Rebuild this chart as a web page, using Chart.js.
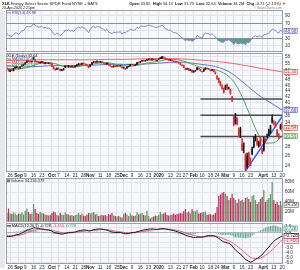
<!DOCTYPE html>
<html>
<head>
<meta charset="utf-8">
<script src="https://cdn.jsdelivr.net/npm/chart.js@4.4.1/dist/chart.umd.min.js"></script>
<style>
html,body{margin:0;padding:0;background:#fff;}
body{width:300px;height:270px;position:relative;overflow:hidden;}
canvas{position:absolute;left:0;}
#band{position:absolute;left:0;top:10px;width:5px;height:258px;background:#e7e8ec;}
</style>
</head>
<body>
<div id="band"></div>
<canvas id="cRsi" width="300" height="53" style="top:0"></canvas>
<canvas id="cPrice" width="300" height="126" style="top:52px"></canvas>
<canvas id="cVol" width="300" height="45" style="top:178px"></canvas>
<canvas id="cMacd" width="300" height="48" style="top:222px"></canvas>
<script>
const FONT = "'Liberation Sans', Arial, Helvetica, sans-serif";

// ---------- categories (trading days) ----------
const monthDays = [
  ['2019-08', [22,23,26,27,28,29,30]],
  ['2019-09', [3,4,5,6,9,10,11,12,13,16,17,18,19,20,23,24,25,26,27,30]],
  ['2019-10', [1,2,3,4,7,8,9,10,11,14,15,16,17,18,21,22,23,24,25,28,29,30,31]],
  ['2019-11', [1,4,5,6,7,8,11,12,13,14,15,18,19,20,21,22,25,26,27,29]],
  ['2019-12', [2,3,4,5,6,9,10,11,12,13,16,17,18,19,20,23,24,26,27,30,31]],
  ['2020-01', [2,3,6,7,8,9,10,13,14,15,16,17,21,22,23,24,27,28,29,30,31]],
  ['2020-02', [3,4,5,6,7,10,11,12,13,14,18,19,20,21,24,25,26,27,28]],
  ['2020-03', [2,3,4,5,6,9,10,11,12,13,16,17,18,19,20,23,24,25,26,27,30,31]],
  ['2020-04', [1,2,3,6,7,8,9,13,14,15,16,17,20]]
];
const dates = monthDays.flatMap(([m, ds]) => ds.map(d => m + '-' + String(d).padStart(2, '0')));

// ---------- x tick labels ----------
const tickDates = ['2019-08-26','2019-09-03','2019-09-09','2019-09-16','2019-09-23','2019-10-01','2019-10-07','2019-10-14','2019-10-21','2019-10-28','2019-11-01','2019-11-11','2019-11-18','2019-11-25','2019-12-02','2019-12-09','2019-12-16','2019-12-23','2020-01-02','2020-01-13','2020-01-21','2020-01-27','2020-02-03','2020-02-10','2020-02-18','2020-02-24','2020-03-02','2020-03-09','2020-03-16','2020-03-23','2020-04-01','2020-04-06','2020-04-13','2020-04-20'];
const tickTexts = ['26','Sep','9','16','23','Oct','7','14','21','28','Nov','11','18','25','Dec','9','16','23','2020','13','21','27','Feb','10','18','24','Mar','9','16','23','Apr','6','13','20'];
const boldTickTexts = ['Sep','Oct','Nov','Dec','2020','Feb','Mar','Apr'];

// ---------- price (daily candles) ----------
const opens = [
  52.9,52.5,51.5,52.3,51.8,52.9,53.5,
  53.0,52.9,53.9,54.4,54.6,55.4,56.1,56.0,55.6,57.6,56.6,55.7,55.8,55.6,55.4,55.6,54.8,55.2,54.9,55.0,
  54.9,53.5,52.5,52.4,52.8,52.4,51.9,52.2,53.2,53.7,53.4,53.8,53.5,53.6,53.4,53.9,54.3,54.8,54.5,55.1,54.6,54.4,53.7,
  53.6,54.6,55.4,55.8,55.5,55.8,55.5,55.8,55.2,55.0,54.7,54.9,54.2,53.7,53.4,53.9,53.7,53.9,53.8,53.6,
  53.3,52.4,52.9,53.5,53.9,54.5,54.3,54.1,54.5,55.5,55.4,55.9,56.3,56.0,56.4,56.6,56.9,56.7,56.9,56.6,56.3,
  56.7,57.3,57.2,57.9,57.4,56.9,56.8,56.3,56.5,56.0,55.9,55.8,55.4,55.1,54.3,54.1,52.8,52.4,52.7,51.9,52.1,
  51.4,51.7,52.2,52.9,52.3,51.5,51.6,52.4,52.8,52.6,52.0,51.9,52.1,51.3,49.6,48.6,47.3,45.6,43.6,
  44.8,46.2,44.9,44.6,41.9,34.6,34.2,35.0,31.6,32.2,28.6,28.0,26.0,23.7,26.5,24.5,26.4,27.9,29.6,29.4,28.1,29.9,
  27.2,27.2,29.3,30.3,32.0,31.4,35.4,33.9,33.8,32.0,30.6,32.3,33.85
];
const highs = [
  53.1,52.6,52.3,52.5,52.8,53.5,53.7,
  53.1,53.5,54.3,54.6,55.4,56.2,56.3,56.1,56.1,57.8,56.7,56.0,55.9,55.7,55.9,55.7,55.4,55.4,55.2,55.2,
  55.0,53.6,52.7,53.0,53.0,52.5,52.4,52.8,54.0,53.9,54.1,53.9,53.9,53.8,54.0,54.5,54.9,54.9,55.1,55.2,54.8,54.5,53.8,
  54.4,55.4,55.9,55.9,56.1,55.9,55.9,55.9,55.3,55.0,55.2,55.0,54.3,53.8,54.0,54.0,54.0,54.0,54.1,53.6,
  53.4,52.9,53.6,53.8,54.6,54.7,54.4,54.4,55.5,55.6,55.9,56.3,56.4,56.4,56.7,57.0,57.0,57.0,57.0,56.7,56.6,
  57.1,57.7,58.2,58.0,57.5,57.0,56.9,56.7,56.6,56.1,56.0,55.9,55.5,55.2,54.4,54.2,52.9,52.9,52.8,52.4,52.2,
  51.8,52.0,53.2,53.0,52.4,51.7,52.5,53.1,53.0,52.7,52.1,52.4,52.2,51.4,49.8,48.8,47.5,46.2,45.0,
  46.1,46.6,45.4,44.7,42.1,36.0,36.7,35.4,32.6,32.8,29.9,28.9,26.4,26.6,26.8,25.6,27.9,30.4,30.9,30.0,29.3,30.3,
  27.6,30.2,30.0,31.0,32.3,33.3,36.2,34.6,34.3,32.2,31.1,33.6,34.13
];
const lows = [
  52.4,51.6,51.4,51.8,51.7,52.8,53.0,
  52.4,52.8,53.8,54.0,54.5,55.3,55.7,55.5,55.5,56.8,55.7,55.4,55.1,55.1,55.3,54.8,54.7,54.8,54.8,54.6,
  53.5,52.5,52.0,52.2,52.4,51.7,51.8,52.1,53.1,53.4,53.3,53.3,53.4,53.1,53.3,53.8,54.2,54.3,54.4,54.6,54.4,53.8,53.0,
  53.5,54.5,55.3,55.3,55.4,55.5,55.4,55.3,55.0,54.5,54.6,54.1,53.7,53.2,53.3,53.5,53.6,53.6,53.7,52.9,
  52.8,52.3,52.8,53.4,53.8,54.2,54.0,54.0,54.4,55.1,55.3,55.8,56.0,55.9,56.2,56.5,56.4,56.3,56.5,56.3,56.2,
  56.6,57.1,57.1,57.4,56.7,56.5,56.2,56.2,56.0,55.7,55.5,55.4,55.0,54.3,53.9,53.1,52.2,52.3,51.9,51.8,51.1,
  51.1,51.5,52.1,52.3,51.6,51.2,51.5,52.3,52.6,52.3,51.7,51.8,51.3,50.4,48.3,46.9,45.8,44.6,43.2,
  44.4,44.5,44.6,42.8,40.3,33.2,33.6,33.4,30.3,30.1,27.1,26.6,22.9,23.5,24.2,24.0,26.2,27.7,29.3,28.3,27.9,28.2,
  26.4,27.0,29.0,30.1,30.6,31.2,33.9,33.3,32.8,30.5,29.9,32.2,31.73
];
const closes = [
  52.6,51.8,52.1,51.9,52.7,53.3,53.3,
  52.6,53.4,54.2,54.2,55.2,56.0,55.9,55.7,56.0,57.0,55.8,55.6,55.3,55.3,55.7,54.9,55.3,54.9,55.0,54.7,
  53.6,52.6,52.3,52.9,52.6,51.8,52.2,52.7,53.8,53.5,53.9,53.4,53.7,53.2,53.9,54.3,54.8,54.4,55.0,54.7,54.5,53.9,53.1,
  54.2,55.3,55.8,55.4,55.9,55.7,55.8,55.4,55.1,54.6,55.1,54.2,53.8,53.3,53.9,53.6,53.9,53.7,54.0,53.0,
  53.0,52.7,53.5,53.6,54.5,54.3,54.1,54.3,55.4,55.2,55.8,56.2,56.1,56.3,56.6,56.9,56.8,56.9,56.6,56.4,56.5,
  57.0,57.5,58.0,57.6,56.8,56.7,56.3,56.5,56.1,55.8,55.7,55.5,55.1,54.4,54.0,53.2,52.3,52.6,52.0,52.2,51.2,
  51.5,51.8,53.0,52.4,51.7,51.3,52.3,52.9,52.7,52.4,51.8,52.2,51.4,50.6,48.4,47.0,46.0,44.8,44.3,
  45.9,44.6,45.2,43.0,40.8,33.6,35.6,33.7,30.5,31.4,27.3,27.9,23.3,25.9,24.4,24.3,27.5,29.5,30.5,28.5,29.0,28.4,
  26.7,29.8,29.7,30.6,30.8,33.0,34.2,33.7,33.0,30.6,30.1,33.35,32.64
];

// moving averages, one reading every 5th trading day
const ma20 = [52.8,52.5,52.8,53.8,55.0,55.4,54.6,53.5,53.3,53.9, 54.4,55.1,55.3,54.6,54.0,53.8,54.4,55.3,55.8,56.6, 56.8,56.2,54.9,53.5,52.6,52.2,50.8,48.2,43.2,37.0, 31.5,28.8,28.9,30.53];
const ma50 = [54.0,53.6,53.4,53.5,53.7,53.9,54.0,54.0,54.0,54.0, 54.1,54.3,54.5,54.6,54.5,54.5,54.6,54.8,55.0,55.3, 55.5,55.5,55.2,54.7,54.2,53.6,52.4,50.6,48.0,45.4, 42.9,41.0,39.3,37.66];
const ma200 = [56.2,56.3,56.4,56.5,56.6,56.6,56.6,56.6,56.6,56.6, 56.6,56.7,56.8,56.8,56.8,56.9,57.0,57.1,57.2,57.2, 57.1,57.0,56.8,56.5,56.2,55.9,55.5,55.0,54.4,53.8, 53.1,52.5,51.9,51.30];

// drawn support / resistance levels and trend line
const levelLines = [41.2, 36.1, 30.4];
const levelStart = '2020-02-07';
const trendStart = ['2020-03-18', 22.95];
const trendEnd = ['2020-04-20', 35.8];

// ---------- volume (millions) ----------
const volumesM = [
  18,27,17,16,19,17,14,
  17,16,19,15,22,27,20,16,17,36,26,18,16,20,18,17,15,14,13,14,
  18,21,19,14,13,18,15,14,19,16,15,13,14,12,14,15,18,14,17,13,12,15,18,
  17,18,20,15,16,12,13,14,13,14,12,16,15,18,13,12,11,12,10,9,
  16,18,15,12,17,13,12,13,19,15,17,18,14,13,22,12,7,10,11,13,12,
  14,20,16,17,19,14,13,14,15,17,14,16,17,18,17,22,26,19,21,17,26,
  22,21,24,17,18,19,20,21,14,15,16,14,15,18,30,52,55,58,60,
  56,52,44,48,56,48,44,38,46,42,44,40,48,50,46,40,52,54,44,36,40,46,
  50,64,40,44,48,56,80,44,36,40,34,42,34.234379
];

// ---------- RSI(14) ----------
const rsi = [
  44,38,36,35,40,44,44,
  40,45,50,50,56,62,61,60,63,70,64,62,60,60,62,57,59,57,57,55,
  49,42,40,44,42,37,41,45,52,50,53,49,51,48,53,56,60,57,61,58,56,50,45,
  54,60,62,58,61,60,60,56,54,50,54,47,45,42,47,45,47,46,48,41,
  46,44,49,50,54,53,51,53,59,57,61,63,62,62,63,65,64,63,61,59,59,
  61,63,65,61,55,54,51,52,48,45,45,43,40,35,32,28,24,27,24,26,22,
  25,28,38,35,32,31,40,44,43,42,39,42,38,34,27,24,22,20,20,
  26,24,27,23,20,14,19,17,15,18,15,17,13,20,18,24,31,35,37,34,36,36,
  33,40,40,42,43,50,54,53,51,45,44,51,48.98
];

// ---------- MACD(12,26,9) ----------
const macd = [
  -0.80,-0.85,-0.82,-0.78,-0.68,-0.55,-0.45,
  -0.45,-0.32,-0.15,0.00,0.18,0.38,0.50,0.60,0.70,0.85,0.84,0.80,0.74,0.66,0.62,0.55,0.50,0.44,0.40,0.34,
  0.20,0.02,-0.12,-0.18,-0.24,-0.34,-0.36,-0.34,-0.22,-0.16,-0.08,-0.06,-0.02,-0.02,0.06,0.16,0.28,0.32,0.40,0.44,0.44,0.38,0.26,
  0.28,0.38,0.50,0.54,0.60,0.62,0.64,0.60,0.55,0.46,0.42,0.30,0.18,0.04,0.00,-0.05,-0.06,-0.08,-0.06,-0.14,
  -0.22,-0.30,-0.28,-0.24,-0.14,-0.08,-0.05,-0.02,0.10,0.18,0.28,0.38,0.44,0.50,0.55,0.60,0.62,0.64,0.62,0.58,0.55,
  0.62,0.66,0.70,0.70,0.64,0.58,0.50,0.44,0.38,0.30,0.22,0.12,0.00,-0.14,-0.28,-0.42,-0.58,-0.68,-0.78,-0.86,-0.96,
  -1.02,-1.04,-0.98,-0.96,-0.96,-0.98,-0.90,-0.78,-0.70,-0.66,-0.68,-0.66,-0.70,-0.80,-1.00,-1.22,-1.45,-1.68,-1.88,
  -1.96,-2.08,-2.15,-2.35,-2.62,-3.15,-3.45,-3.70,-4.05,-4.25,-4.65,-4.90,-5.35,-5.50,-5.70,-5.85,-5.75,-5.55,-5.30,-5.10,-4.88,-4.65,
  -4.40,-4.00,-3.62,-3.25,-2.90,-2.50,-2.10,-1.78,-1.50,-1.30,-1.10,-0.88,-0.728
];
const macdSignal = [
  -0.60,-0.65,-0.68,-0.70,-0.70,-0.67,-0.63,
  -0.60,-0.54,-0.46,-0.37,-0.26,-0.13,-0.01,0.11,0.23,0.35,0.45,0.52,0.57,0.59,0.60,0.59,0.57,0.54,0.51,0.48,
  0.42,0.34,0.25,0.16,0.08,0.00,-0.07,-0.12,-0.14,-0.14,-0.13,-0.12,-0.10,-0.08,-0.05,0.00,0.06,0.11,0.17,0.22,0.26,0.29,0.29,
  0.29,0.31,0.35,0.39,0.43,0.47,0.50,0.52,0.53,0.52,0.50,0.46,0.41,0.34,0.27,0.21,0.16,0.11,0.08,0.03,
  -0.02,-0.08,-0.12,-0.14,-0.14,-0.13,-0.11,-0.09,-0.05,0.00,0.06,0.12,0.19,0.25,0.31,0.37,0.42,0.46,0.49,0.51,0.52,
  0.54,0.56,0.59,0.61,0.62,0.61,0.59,0.56,0.53,0.48,0.43,0.37,0.29,0.21,0.11,0.00,-0.12,-0.23,-0.34,-0.44,-0.55,
  -0.64,-0.72,-0.77,-0.81,-0.84,-0.87,-0.88,-0.86,-0.83,-0.80,-0.77,-0.75,-0.74,-0.75,-0.80,-0.88,-1.00,-1.14,-1.29,
  -1.42,-1.55,-1.67,-1.80,-1.97,-2.21,-2.46,-2.71,-2.98,-3.24,-3.52,-3.80,-4.11,-4.39,-4.65,-4.89,-5.06,-5.16,-5.19,-5.17,-5.11,-5.02,
  -4.90,-4.72,-4.50,-4.26,-4.00,-3.72,-3.42,-3.10,-2.78,-2.46,-2.14,-1.80,-1.456
];
const macdHist = [
  -0.20,-0.20,-0.14,-0.08,0.02,0.12,0.18,
  0.15,0.22,0.31,0.37,0.44,0.51,0.51,0.49,0.47,0.50,0.39,0.28,0.17,0.07,0.02,-0.04,-0.07,-0.10,-0.11,-0.14,
  -0.22,-0.32,-0.37,-0.34,-0.32,-0.34,-0.29,-0.22,-0.08,-0.02,0.05,0.06,0.08,0.06,0.11,0.16,0.22,0.21,0.23,0.22,0.18,0.09,-0.03,
  -0.01,0.07,0.15,0.15,0.17,0.15,0.14,0.08,0.02,-0.06,-0.08,-0.16,-0.23,-0.30,-0.27,-0.26,-0.22,-0.19,-0.14,-0.17,
  -0.20,-0.22,-0.16,-0.10,0.00,0.05,0.06,0.07,0.15,0.18,0.22,0.26,0.25,0.25,0.24,0.23,0.20,0.18,0.13,0.07,0.03,
  0.08,0.10,0.11,0.09,0.02,-0.03,-0.09,-0.12,-0.15,-0.18,-0.21,-0.25,-0.29,-0.35,-0.39,-0.42,-0.46,-0.45,-0.44,-0.42,-0.41,
  -0.38,-0.32,-0.21,-0.15,-0.12,-0.11,-0.02,0.08,0.13,0.14,0.09,0.09,0.04,-0.05,-0.20,-0.34,-0.45,-0.54,-0.59,
  -0.54,-0.53,-0.48,-0.55,-0.65,-0.94,-0.99,-0.99,-1.07,-1.01,-1.13,-1.10,-1.24,-1.11,-1.05,-0.96,-0.69,-0.39,-0.11,0.07,0.23,0.37,
  0.50,0.72,0.88,1.01,1.10,1.22,1.32,1.32,1.28,1.16,1.04,0.92,0.728
];

// ---------- axis tick values ----------
const priceTicks = [58,55,52,50,48,46,44,42,40,38,36,34,32,30,28,26,24];
const rsiTicks = [10,30,50,70,90];
const rsiBands = [70,30];
const volTicks = [20,40,60,80];
const macdTicks = [1,0,-1,-2,-3,-4,-5,-6];

[opens,highs,lows,closes,volumesM,rsi,macd,macdSignal,macdHist].forEach((a,k) => {
  if (a.length !== dates.length) throw new Error('length mismatch ' + k + ': ' + a.length + ' vs ' + dates.length);
});
[ma20,ma50,ma200].forEach((a,k) => { if (a.length !== 34) throw new Error('ma length ' + k + ': ' + a.length); });

// ---------- helpers ----------
const N = dates.length, L = N - 1;
const tickAt = {};
tickDates.forEach((d, k) => { tickAt[dates.indexOf(d)] = tickTexts[k]; });
const maDates = dates.filter((d, i) => i % 5 === 0);
const maSeries = arr => arr.map((v, k) => ({ x: maDates[k], y: v }));
const isDown = i => (i > 0 ? closes[i] < closes[i - 1] : closes[i] < opens[i]);
const candleColor = i => isDown(i) ? '#e2262b' : '#141414';
const volColor = i => isDown(i) ? '#b8325f' : '#5c975c';

Chart.defaults.font.family = FONT;

function xAxis(show) {
  return {
    type: 'category', offset: true,
    grid: { offset: false, drawTicks: false, lineWidth: 1,
      color: c => (c.index in tickAt) ? '#dde0e7' : 'rgba(0,0,0,0)' },
    border: { display: false },
    ticks: { display: show, autoSkip: false, maxRotation: 0, minRotation: 0, padding: 0.5, color: '#1c1c1c',
      font: c => ({ family: FONT, size: 4.6, weight: boldTickTexts.includes(tickAt[c.index]) ? 'bold' : 'normal' }),
      callback: (v, i) => (i in tickAt) ? tickAt[i] : '' },
    afterFit: s => { s.height = show ? 6 : 0; s.paddingLeft = 0; s.paddingRight = 0; }
  };
}
function yAxis(extra, tickVals, fmt) {
  return Object.assign({
    position: 'right',
    grid: { color: '#e2e5eb', drawTicks: false, lineWidth: 1 },
    border: { display: false },
    ticks: { padding: 2, autoSkip: false, color: '#2a2a2a', font: { family: FONT, size: 4.6 }, callback: v => fmt(v) },
    afterBuildTicks: s => { s.ticks = tickVals.map(v => ({ value: v })); },
    afterFit: s => { s.width = 17; s.paddingTop = 0; s.paddingBottom = 0; }
  }, extra);
}
const common = { responsive: false, animation: false, devicePixelRatio: 1, events: [],
  plugins: { legend: { display: false }, tooltip: { enabled: false } } };

const panelPlugin = {
  id: 'panel',
  beforeDraw(chart) {
    const { ctx, chartArea: a } = chart;
    ctx.save(); ctx.fillStyle = '#f7f8fb';
    ctx.fillRect(a.left, a.top, a.right - a.left, a.bottom - a.top); ctx.restore();
  },
  afterDraw(chart) {
    const { ctx, chartArea: a } = chart;
    ctx.save(); ctx.strokeStyle = '#9b9ea6'; ctx.lineWidth = 1;
    ctx.strokeRect(Math.round(a.left) + 0.5, Math.round(a.top) + 0.5, Math.round(a.right - a.left) - 1, Math.round(a.bottom - a.top) - 1);
    ctx.restore();
  }
};
function hLinesPlugin(id, vals, color) {
  return { id, beforeDatasetsDraw(chart) {
    const y = chart.scales.y, a = chart.chartArea, ctx = chart.ctx;
    ctx.save(); ctx.strokeStyle = color; ctx.lineWidth = 1;
    vals.forEach(v => { const py = Math.round(y.getPixelForValue(v)) + 0.5;
      ctx.beginPath(); ctx.moveTo(a.left, py); ctx.lineTo(a.right, py); ctx.stroke(); });
    ctx.restore();
  } };
}
function drawLegend(ctx, x, y, items) {
  ctx.save(); ctx.font = `3.9px ${FONT}`; ctx.textBaseline = 'alphabetic'; ctx.textAlign = 'left';
  let cx = x;
  items.forEach(it => {
    if (it.line) { ctx.strokeStyle = it.line; ctx.lineWidth = 1; ctx.beginPath();
      ctx.moveTo(cx, y - 1.3); ctx.lineTo(cx + 4, y - 1.3); ctx.stroke(); cx += 4.8; }
    if (it.box) { ctx.fillStyle = it.box; ctx.fillRect(cx, y - 3, 3, 3); cx += 3.8; }
    ctx.font = `${it.bold ? 'bold ' : ''}3.9px ${FONT}`;
    ctx.fillStyle = it.color; ctx.fillText(it.text, cx, y); cx += ctx.measureText(it.text).width + 1;
  });
  ctx.restore();
}
function drawTags(chart, tags) {
  const ctx = chart.ctx, ys = chart.scales.y, a = chart.chartArea;
  const items = tags.map(t => Object.assign({}, t, { py: ys.getPixelForValue(t.value) })).sort((p, q) => p.py - q.py);
  for (let k = 1; k < items.length; k++) if (items[k].py - items[k - 1].py < 5) items[k].py = items[k - 1].py + 5;
  ctx.save(); ctx.font = `4.5px ${FONT}`; ctx.textBaseline = 'middle'; ctx.textAlign = 'left';
  items.forEach(t => {
    const w = ctx.measureText(t.text).width + 2, x = a.right + 1;
    ctx.fillStyle = t.fill; ctx.fillRect(x, t.py - 2.5, w, 5);
    ctx.strokeStyle = t.color; ctx.lineWidth = 0.6; ctx.strokeRect(x, t.py - 2.5, w, 5);
    ctx.fillStyle = t.color; ctx.fillText(t.text, x + 1, t.py + 0.3);
  });
  ctx.restore();
}
function drawHeader(ctx) {
  ctx.save(); ctx.textBaseline = 'alphabetic'; ctx.textAlign = 'left'; ctx.fillStyle = '#111';
  ctx.font = `bold 4px ${FONT}`; ctx.fillText('XLE', 2, 4.6);
  const w = ctx.measureText('XLE ').width;
  ctx.font = `4px ${FONT}`; ctx.fillText('Energy Select Sector SPDR Fund NYSE + BATS', 2 + w, 4.6);
  ctx.font = `3.6px ${FONT}`; ctx.fillText('20-Apr-2020 2:21pm', 2, 8.8);
  const chg = closes[L] - closes[L - 1];
  const parts = [
    ['Open ', true], [opens[L].toFixed(2) + '  ', false], ['High ', true], [highs[L].toFixed(2) + '  ', false],
    ['Low ', true], [lows[L].toFixed(2) + '  ', false], ['Last ', true], [closes[L].toFixed(2) + '  ', false],
    ['Volume ', true], [volumesM[L].toFixed(1) + 'M  ', false], ['Chg ', true],
    [chg.toFixed(2) + ' (' + (chg / closes[L - 1] * 100).toFixed(2) + '%) ', false], ['\u25BC', false, '#d8262b']
  ];
  let total = 0;
  parts.forEach(p => { ctx.font = `${p[1] ? 'bold ' : ''}4px ${FONT}`; total += ctx.measureText(p[0]).width; });
  let x = 286 - total;
  parts.forEach(p => { ctx.font = `${p[1] ? 'bold ' : ''}4px ${FONT}`; ctx.fillStyle = p[2] || '#111';
    ctx.fillText(p[0], x, 4.6); x += ctx.measureText(p[0]).width; });
  ctx.font = `3.3px ${FONT}`; ctx.fillStyle = '#8a8a8a'; ctx.textAlign = 'right';
  ctx.fillText('\u00A9 StockCharts.com', 282, 9.4);
  ctx.restore();
}

// ---------- RSI panel ----------
new Chart(document.getElementById('cRsi'), {
  type: 'line',
  data: { labels: dates, datasets: [{
    data: rsi, borderColor: '#8585cf', borderWidth: 1, pointRadius: 0, tension: 0,
    fill: { target: { value: 30 }, above: 'rgba(0,0,0,0)', below: '#5f9c8c' } }] },
  options: Object.assign({}, common, {
    layout: { padding: { left: 6, right: 0, top: 10, bottom: 1 } },
    scales: { x: xAxis(false), y: yAxis({ min: -6, max: 105 }, rsiTicks, v => String(v)) } }),
  plugins: [panelPlugin, hLinesPlugin('rsiBands', rsiBands, '#8d9097'), {
    id: 'rsiText', afterDraw(chart) {
      drawHeader(chart.ctx);
      drawLegend(chart.ctx, 7, 14.2, [{ line: '#8585cf', text: 'RSI(14) ' + rsi[L].toFixed(2), color: '#4a4a9a' }]);
      drawTags(chart, [{ value: rsi[L], text: rsi[L].toFixed(2), color: '#5a5ab0', fill: '#eef0fb' }]);
    } }]
});

// ---------- price panel ----------
const lineDs = (data, color, order, width) => ({ type: 'line', data, borderColor: color, borderWidth: width || 1,
  pointRadius: 0, cubicInterpolationMode: 'monotone', order });
new Chart(document.getElementById('cPrice'), {
  type: 'bar',
  data: { labels: dates, datasets: [
    lineDs(maSeries(ma200), '#e46a6a', 8),
    lineDs(maSeries(ma50), '#6d6dd8', 7),
    lineDs(maSeries(ma20), '#4fa64f', 6),
    ...levelLines.map(v => lineDs([{ x: levelStart, y: v }, { x: dates[L], y: v }], '#4a4a4a', 5, 1.5)),
    lineDs([{ x: trendStart[0], y: trendStart[1] }, { x: trendEnd[0], y: trendEnd[1] }], '#2d5bff', 2, 1.5),
    { type: 'bar', data: lows.map((l, i) => [l, highs[i]]), backgroundColor: c => candleColor(c.dataIndex),
      barThickness: 0.8, grouped: false, order: 1 },
    { type: 'bar', data: opens.map((o, i) => [o, closes[i]]), backgroundColor: c => candleColor(c.dataIndex),
      barPercentage: 0.85, categoryPercentage: 1, minBarLength: 0.7, grouped: false, order: 0 }
  ] },
  options: Object.assign({}, common, {
    layout: { padding: { left: 6, right: 0, top: 1, bottom: 0 } },
    scales: { x: xAxis(true), y: yAxis({ type: 'logarithmic', min: 22.8, max: 59.8 }, priceTicks, v => String(v)) } }),
  plugins: [panelPlugin, {
    id: 'priceText', afterDraw(chart) {
      const ctx = chart.ctx;
      drawLegend(ctx, 7, 4.9, [{ text: 'XLE (Daily) ' + closes[L].toFixed(2), color: '#111' }]);
      drawLegend(ctx, 7, 8.4, [{ line: '#6d6dd8', text: 'MA(50) ' + ma50[ma50.length - 1].toFixed(2), color: '#4848b8' }]);
      drawLegend(ctx, 7, 11.9, [{ line: '#e46a6a', text: 'MA(200) ' + ma200[ma200.length - 1].toFixed(2), color: '#c83c3c' }]);
      drawLegend(ctx, 7, 15.4, [{ line: '#4fa64f', text: 'MA(20) ' + ma20[ma20.length - 1].toFixed(2), color: '#3a8a3a' }]);
      drawTags(chart, [
        { value: ma200[ma200.length - 1], text: ma200[ma200.length - 1].toFixed(2), color: '#d23c3c', fill: '#fbe9e9' },
        { value: ma50[ma50.length - 1], text: ma50[ma50.length - 1].toFixed(2), color: '#4646c0', fill: '#ecedfb' },
        { value: closes[L], text: closes[L].toFixed(2), color: '#c8262b', fill: '#fff4d6' },
        { value: ma20[ma20.length - 1], text: ma20[ma20.length - 1].toFixed(2), color: '#3a8a3a', fill: '#e9f6e9' }
      ]);
    } }]
});

// ---------- volume panel ----------
new Chart(document.getElementById('cVol'), {
  type: 'bar',
  data: { labels: dates, datasets: [{ data: volumesM, backgroundColor: c => volColor(c.dataIndex),
    barPercentage: 0.75, categoryPercentage: 1 }] },
  options: Object.assign({}, common, {
    layout: { padding: { left: 6, right: 0, top: 0, bottom: 1 } },
    scales: { x: xAxis(false), y: yAxis({ min: 0, max: 88 }, volTicks, v => v + 'M') } }),
  plugins: [panelPlugin, {
    id: 'volText', afterDraw(chart) {
      drawLegend(chart.ctx, 7, 4.2, [{ box: '#5c975c', text: 'Volume ' + Math.round(volumesM[L] * 1e6).toLocaleString('en-US'), color: '#222' }]);
      drawTags(chart, [{ value: volumesM[L], text: volumesM[L].toFixed(1) + 'M', color: '#555', fill: '#f2f2f2' }]);
    } }]
});

// ---------- MACD panel ----------
new Chart(document.getElementById('cMacd'), {
  type: 'bar',
  data: { labels: dates, datasets: [
    { type: 'line', data: macd, borderColor: '#151515', borderWidth: 1, pointRadius: 0, order: 0 },
    { type: 'line', data: macdSignal, borderColor: '#e0607a', borderWidth: 1, pointRadius: 0, order: 1 },
    { type: 'bar', data: macdHist, backgroundColor: '#6eaa99', barPercentage: 0.7, categoryPercentage: 1, order: 2 }
  ] },
  options: Object.assign({}, common, {
    layout: { padding: { left: 6, right: 0, top: 1, bottom: 0 } },
    scales: { x: xAxis(true), y: yAxis({ min: -6.2, max: 1.8 }, macdTicks, v => v.toFixed(1)) } }),
  plugins: [panelPlugin, hLinesPlugin('macdZero', [0], '#b5b8bf'), {
    id: 'macdText', afterDraw(chart) {
      drawLegend(chart.ctx, 7, 5.2, [
        { line: '#151515', text: 'MACD(12,26,9) ' + macd[L].toFixed(3) + ',', color: '#151515' },
        { text: macdSignal[L].toFixed(3) + ',', color: '#d9485f' },
        { text: macdHist[L].toFixed(3), color: '#3f8f7c' }]);
      drawTags(chart, [
        { value: macdHist[L], text: macdHist[L].toFixed(3), color: '#3f8f7c', fill: '#e6f3ef' },
        { value: macd[L], text: macd[L].toFixed(3), color: '#151515', fill: '#f2f2f2' },
        { value: macdSignal[L], text: macdSignal[L].toFixed(3), color: '#d9485f', fill: '#fbe9ec' }]);
    } }]
});
</script>
</body>
</html>
